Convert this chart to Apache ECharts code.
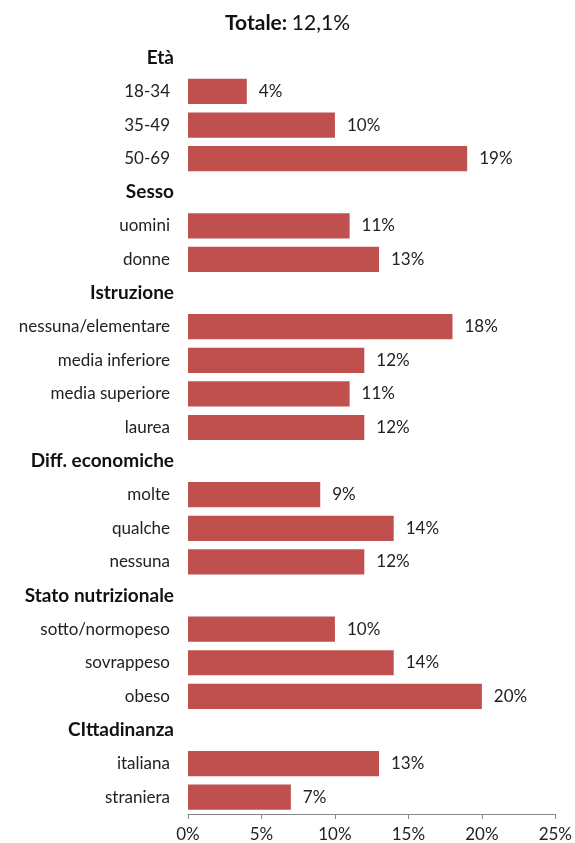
<!DOCTYPE html>
<html>
<head>
<meta charset="utf-8">
<script src="https://cdn.jsdelivr.net/npm/echarts@6/dist/echarts.min.js"></script>
<style>
  html, body { margin: 0; padding: 0; background: #fff; }
  #chart { width: 575px; height: 843px; }
</style>
</head>
<body>
<div id="chart"></div>
<script>
// Rows top to bottom; group headings carry no value
const categories = [
  'Età', '18-34', '35-49', '50-69',
  'Sesso', 'uomini', 'donne',
  'Istruzione', 'nessuna/elementare', 'media inferiore', 'media superiore', 'laurea',
  'Diff. economiche', 'molte', 'qualche', 'nessuna',
  'Stato nutrizionale', 'sotto/normopeso', 'sovrappeso', 'obeso',
  'CIttadinanza', 'italiana', 'straniera'
];
const values = [
  null, 4, 10, 19,
  null, 11, 13,
  null, 18, 12, 11, 12,
  null, 9, 14, 12,
  null, 10, 14, 20,
  null, 13, 7
];
const headers = ['Età', 'Sesso', 'Istruzione', 'Diff. economiche', 'Stato nutrizionale', 'CIttadinanza'];
const xTicks = { min: 0, max: 25, step: 5 };
const totalLabel = '12,1%';

const font = 'Lato';
const chart = echarts.init(document.getElementById('chart'));
chart.setOption({
  animation: false,
  textStyle: { fontFamily: font },
  title: {
    text: '{b|Totale:} {n|' + totalLabel + '}',
    left: 'center',
    top: 8,
    textStyle: {
      fontWeight: 'normal',
      rich: {
        b: { fontFamily: font, fontSize: 21, fontWeight: 'bold', color: '#111' },
        n: { fontFamily: font, fontSize: 21, fontWeight: 'normal', color: '#111' }
      }
    }
  },
  grid: { left: 188, right: 18, top: 41, bottom: 29, containLabel: false },
  xAxis: {
    type: 'value',
    min: xTicks.min,
    max: xTicks.max,
    interval: xTicks.step,
    axisLine: { show: true, lineStyle: { color: '#888', width: 1 } },
    axisTick: { show: true, length: 5, lineStyle: { color: '#888' } },
    splitLine: { show: false },
    axisLabel: {
      formatter: '{value}%',
      fontFamily: font,
      fontSize: 17,
      color: '#222',
      margin: 12
    }
  },
  yAxis: {
    type: 'category',
    inverse: true,
    data: categories,
    axisLine: { show: false },
    axisTick: { show: false },
    axisLabel: {
      margin: 18,
      interval: 0,
      formatter: function (v) {
        return headers.indexOf(v) >= 0 ? '{h|' + v + '}' : '{c|' + v + '}';
      },
      rich: {
        h: { fontFamily: font, fontSize: 19, fontWeight: 'bold', color: '#111', padding: [0, -4, 0, 0] },
        c: { fontFamily: font, fontSize: 17, color: '#222' }
      }
    }
  },
  series: [{
    type: 'bar',
    data: values,
    barCategoryGap: '25%',
    itemStyle: { color: '#C0504D' },
    label: {
      show: true,
      position: 'right',
      distance: 12,
      fontFamily: font,
      fontSize: 17,
      color: '#222',
      formatter: function (p) { return p.value + '%'; }
    }
  }]
});
</script>
</body>
</html>
